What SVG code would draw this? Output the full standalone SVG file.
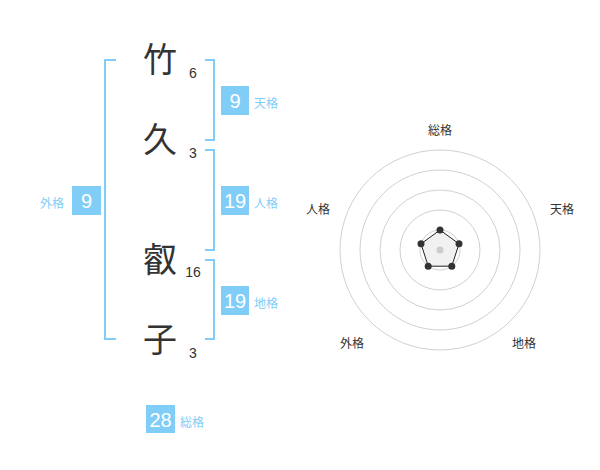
<svg xmlns="http://www.w3.org/2000/svg" width="600" height="470" viewBox="0 0 600 470">
<style>
.ch{font-family:"Noto Sans CJK JP","Noto Sans CJK SC",sans-serif;font-size:34px;fill:#333;text-anchor:middle}
.num{font-family:"Liberation Sans",Arial,sans-serif;font-size:14px;fill:#333;text-anchor:middle}
.br{fill:none;stroke:#80cdf8;stroke-width:2}
.box{fill:#80cdf8}
.bn{font-family:"Liberation Sans",Arial,sans-serif;font-size:20px;fill:#fff;text-anchor:middle}
.bl{font-family:"Noto Sans CJK JP",sans-serif;font-size:12px;fill:#80cdf8}
.ring{fill:none;stroke:#d0d0d0;stroke-width:1}
.rl{font-family:"Noto Sans CJK JP",sans-serif;font-size:12px;fill:#333;text-anchor:middle}
</style>
<rect width="600" height="470" fill="#fff"/>
<g id="chars">
<text class="ch" x="160" y="72">竹</text>
<text class="ch" x="160" y="152">久</text>
<text class="ch" x="160" y="272">叡</text>
<text class="ch" x="160" y="352">子</text>
<text class="num" x="193" y="78">6</text>
<text class="num" x="193" y="158">3</text>
<text class="num" x="193" y="277">16</text>
<text class="num" x="193" y="358">3</text>
</g>
<g id="connectors">
<path class="br" d="M116,60 H105 V339 H116"/>
<path class="br" d="M205,60 H214 V140 H205"/>
<path class="br" d="M205,150 H214 V250 H205"/>
<path class="br" d="M205,260 H214 V339 H205"/>
</g>
<g id="tenkaku">
<rect class="box" x="221" y="86" width="28" height="29"/>
<text class="bn" x="235" y="108">9</text>
<text class="bl" x="254" y="108">天格</text>
</g>
<g id="jinkaku">
<rect class="box" x="221" y="186" width="28" height="29"/>
<text class="bn" x="235" y="208">19</text>
<text class="bl" x="254" y="208">人格</text>
</g>
<g id="chikaku">
<rect class="box" x="221" y="286" width="28" height="29"/>
<text class="bn" x="235" y="308">19</text>
<text class="bl" x="254" y="308">地格</text>
</g>
<g id="gaikaku">
<rect class="box" x="72" y="186" width="29" height="29"/>
<text class="bn" x="86.5" y="208">9</text>
<text class="bl" x="40" y="208">外格</text>
</g>
<g id="soukaku">
<rect class="box" x="146" y="405" width="29" height="28"/>
<text class="bn" x="160.5" y="427">28</text>
<text class="bl" x="180" y="427">総格</text>
</g>
<g id="radar">
<circle class="ring" cx="440" cy="250" r="100"/>
<circle class="ring" cx="440" cy="250" r="80"/>
<circle class="ring" cx="440" cy="250" r="60"/>
<circle class="ring" cx="440" cy="250" r="40"/>
<circle class="ring" cx="440" cy="250" r="20"/>
<polygon points="440,230 459,243.8 451.8,266.2 428.2,266.2 421,243.8" fill="#eee" fill-opacity="0.8" stroke="#222" stroke-width="1"/>
<circle cx="440" cy="250" r="3.5" fill="#ccc"/>
<g fill="#333">
<circle cx="440" cy="230" r="3.5"/>
<circle cx="459" cy="243.8" r="3.5"/>
<circle cx="451.8" cy="266.2" r="3.5"/>
<circle cx="428.2" cy="266.2" r="3.5"/>
<circle cx="421" cy="243.8" r="3.5"/>
</g>
<text class="rl" x="440" y="135">総格</text>
<text class="rl" x="562" y="214">天格</text>
<text class="rl" x="524" y="348">地格</text>
<text class="rl" x="352" y="348">外格</text>
<text class="rl" x="318" y="214">人格</text>
</g>
</svg>
